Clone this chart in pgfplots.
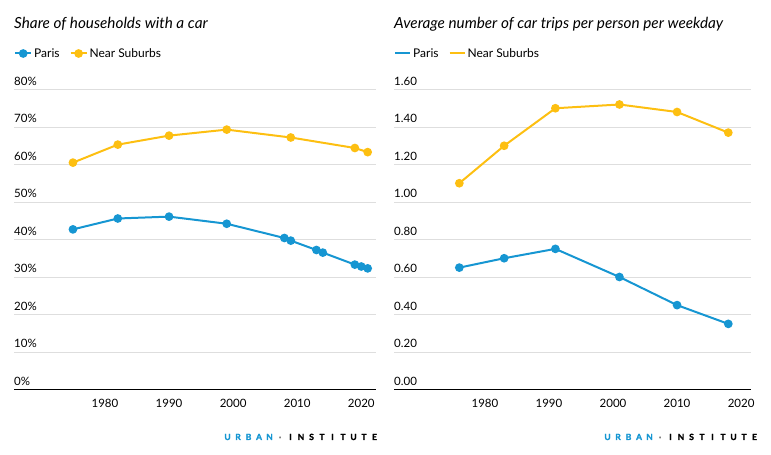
\documentclass[border=0pt]{standalone}
\usepackage{fontspec}
\setmainfont{Lato}
\usepackage{pgfplots}
\pgfplotsset{compat=1.18}
\definecolor{ublue}{HTML}{1696D2}
\definecolor{uyellow}{HTML}{FDBF11}
\definecolor{ugrid}{HTML}{DEDEDE}
\newcommand{\ul}[1]{\makebox[10.5pt][c]{#1}}
\newcommand{\urbanlogo}{\color{ublue}\ul{U}\ul{R}\ul{B}\ul{A}\ul{N}\color{gray}\ul{·}\color{black}\ul{I}\ul{N}\ul{S}\ul{T}\ul{I}\ul{T}\ul{U}\ul{T}\ul{E}}

\pgfplotsset{
  urban/.style={
    scale only axis,
    anchor=south west,
    height=300pt,
    ymin=0,
    xmin=1965.8,
    axis x line*=bottom,
    axis y line*=left,
    y axis line style={draw=none},
    x axis line style={draw=black, line width=1pt, -},
    major tick length=0pt,
    ymajorgrids,
    grid style={ugrid, line width=0.9pt},
    xtick={1980,1990,...,2020},
    tick label style={font=\fontsize{11.5}{13}\selectfont},
    /pgf/number format/assume math mode=true,
    /pgf/number format/1000 sep={},
    xticklabel style={anchor=north, inner sep=0pt, yshift=-9pt},
    yticklabel style={anchor=base west, inner sep=0pt, yshift=4pt},
    legend columns=-1,
    legend style={draw=none, fill=none, at={(rel axis cs:0,1)}, anchor=west,
      yshift=36pt, inner sep=0pt, font=\fontsize{12}{14}\selectfont,
      /tikz/every even column/.append style={column sep=8pt}},
    every axis plot/.append style={line width=2pt, mark=*, mark size=3.3pt},
  }
}

\begin{document}
\begin{tikzpicture}
\useasboundingbox (0,0) rectangle (771pt,455pt);

% left: share of households with a car
\begin{axis}[urban,
  at={(14pt,65.5pt)}, width=362pt,
  xmax=2022.3, ymax=80,
  ytick={0,10,...,80},
  yticklabel={\pgfmathprintnumber{\tick}\%},
  legend image code/.code={\draw[mark repeat=2,mark phase=2,#1] plot coordinates {(0pt,0pt) (8pt,0pt) (16pt,0pt)};},
]
\addplot[ublue] coordinates {
  (1975,42.7) (1982,45.6) (1990,46.1) (1999,44.2) (2008,40.4) (2009,39.7)
  (2013,37.2) (2014,36.5) (2019,33.3) (2020,32.8) (2021,32.3)
};
\addlegendentry{Paris}
\addplot[uyellow] coordinates {
  (1975,60.5) (1982,65.3) (1990,67.7) (1999,69.3) (2009,67.2) (2019,64.4) (2021,63.3)
};
\addlegendentry{Near Suburbs}
\end{axis}

% right: car trips per person per weekday
\begin{axis}[urban,
  at={(394pt,65.5pt)}, width=356.7pt,
  xmax=2021.5, ymax=1.6,
  ytick={0,0.2,...,1.6},
  yticklabel style={/pgf/number format/.cd, fixed, fixed zerofill, precision=2},
  legend image code/.code={\draw[#1] (0pt,0pt) -- (15pt,0pt);},
]
\addplot[ublue] coordinates {
  (1976,0.65) (1983,0.70) (1991,0.75) (2001,0.60) (2010,0.45) (2018,0.35)
};
\addlegendentry{Paris}
\addplot[uyellow] coordinates {
  (1976,1.10) (1983,1.30) (1991,1.50) (2001,1.52) (2010,1.48) (2018,1.37)
};
\addlegendentry{Near Suburbs}
\end{axis}

\node[anchor=base west, inner sep=0pt, font=\itshape\fontsize{15.3}{18}\selectfont]
  at (14pt,426.7pt) {Share of households with a car};
\node[anchor=base west, inner sep=0pt, font=\itshape\fontsize{15.3}{18}\selectfont]
  at (394pt,426pt) {Average number of car trips per person per weekday};

\node[anchor=base east, inner sep=0pt, font=\bfseries\fontsize{8.5}{9}\selectfont\addfontfeatures{FakeBold=2}]
  at (380pt,15pt) {\urbanlogo};
\node[anchor=base east, inner sep=0pt, font=\bfseries\fontsize{8.5}{9}\selectfont\addfontfeatures{FakeBold=2}]
  at (760pt,15pt) {\urbanlogo};
\end{tikzpicture}
\end{document}
